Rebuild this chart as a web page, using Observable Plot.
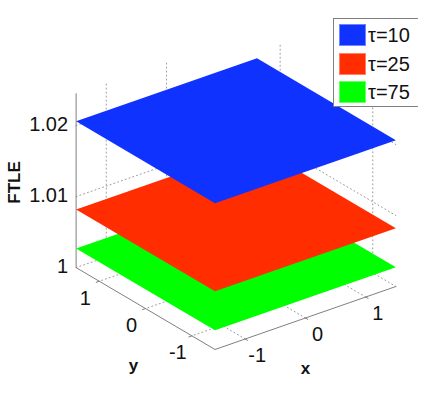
<!DOCTYPE html>
<html><head><meta charset="utf-8">
<script src="https://cdn.jsdelivr.net/npm/d3@7"></script>
<script src="https://cdn.jsdelivr.net/npm/@observablehq/plot@0.6"></script>
<style>
html,body{margin:0;padding:0;background:#fff}
#wrap{position:relative;width:436px;height:393px;overflow:hidden}
#legend{position:absolute;left:333px;top:18px;width:85px;height:89px;box-sizing:border-box;border:1px solid #808080;border-right:none;background:#fff;font:20px "Liberation Sans",sans-serif;color:#111}
#legend div{position:absolute;left:0;height:22px;line-height:22px;padding-left:34px}
#legend i{position:absolute;left:5px;top:0;width:27px;height:22px;box-sizing:border-box;border:1px solid rgba(255,255,255,.4)}
</style></head><body>
<div id="wrap"><div id="chart"></div><div id="legend"></div></div>
<script>
const taus = ["τ=10","τ=25","τ=75"];
const planeColors = ["#0f32ff","#ff2d00","#00ff00"];
const planeLevels = [1.0206,1.0082,1.0027];
const xTicks = [-1,0,1];
const yTicks = [-1,0,1];
const xWallTicks = [-1,0];
const yWallTicks = [-1,1];
const zTicks = [1,1.01,1.02];
const zTickLabels = ["1","1.01","1.02"];
const xLim = [-1.5,1.5];
const yLim = [-1.5,1.5];
const zLim = [1,1.0245];

// oblique 3-D view projected into a 436x393 plane
const px = (x,y)=>214.5+(x+1.5)*60.3-(y+1.5)*46.3;
const py = (x,y,z)=>349-(x+1.5)*21-(y+1.5)*27.3-(z-1)*7100;
const P = ([x,y,z])=>({px:px(x,y),py:py(x,y,z)});
const path = (pts,key)=>pts.map(p=>({...P(p),key}));
const opts = {x:"px",y:"py",z:"key"};

const planes = planeLevels.map((z,i)=>path([[xLim[0],yLim[0],z],[xLim[1],yLim[0],z],[xLim[1],yLim[1],z],[xLim[0],yLim[1],z]],taus[i]));
const grid=[], ax=[], ticks=[];
let k=0;
for(const t of xTicks){
  grid.push(...path([[t,yLim[0],zLim[0]],[t,yLim[1],zLim[0]]],k++));
  ticks.push(...path([[t,yLim[0],zLim[0]],[t,yLim[0]-0.05,zLim[0]]],k++));
}
for(const t of yTicks){
  grid.push(...path([[xLim[1],t,zLim[0]],[xLim[0],t,zLim[0]]],k++));
  ticks.push(...path([[xLim[0],t,zLim[0]],[xLim[0]-0.05,t,zLim[0]]],k++));
}
for(const t of xWallTicks) grid.push(...path([[t,yLim[1],zLim[0]],[t,yLim[1],zLim[1]]],k++));
for(const t of yWallTicks) grid.push(...path([[xLim[1],t,zLim[0]],[xLim[1],t,zLim[1]]],k++));
for(const t of zTicks){
  grid.push(...path([[xLim[0],yLim[1],t],[xLim[1],yLim[1],t],[xLim[1],yLim[0],t]],k++));
}
ax.push(...path([[xLim[0],yLim[1],zLim[1]],[xLim[0],yLim[1],zLim[0]],[xLim[0],yLim[0],zLim[0]],[xLim[1],yLim[0],zLim[0]]],"box"));

const font = {fontFamily:"Liberation Sans",fill:"#111",stroke:"none"};
const marks = [
  Plot.line(grid,{...opts,stroke:"#9a9a9a",strokeWidth:1,strokeDasharray:"1,3"}),
  Plot.line(ax,{...opts,stroke:"#808080",strokeWidth:1}),
  Plot.line(ticks,{...opts,stroke:"#808080",strokeWidth:1}),
  ...planes.slice().reverse().map((d,i)=>Plot.line(d.concat(d[0]),{x:"px",y:"py",fill:planeColors[2-i],stroke:"none"})),
  Plot.text(xTicks,{x:t=>px(t,yLim[0]),y:t=>py(t,yLim[0],zLim[0]),text:d=>String(d),dx:12,dy:17,fontSize:20,...font}),
  Plot.text(yTicks,{x:t=>px(xLim[0],t),y:t=>py(xLim[0],t,zLim[0]),text:d=>String(d),dx:-14,dy:17,fontSize:20,...font}),
  Plot.text(zTicks,{x:()=>px(xLim[0],yLim[1]),y:t=>py(xLim[0],yLim[1],t),text:(d,i)=>zTickLabels[i],dx:-8,dy:-1,textAnchor:"end",fontSize:20,...font}),
  Plot.text(["FTLE"],{x:()=>px(xLim[0],yLim[1]),y:()=>py(xLim[0],yLim[1],1.012),text:d=>d,dx:-62,rotate:-90,fontSize:17,fontWeight:"bold",...font}),
  Plot.text(["y"],{x:()=>px(xLim[0],0),y:()=>py(xLim[0],0,zLim[0]),text:d=>d,dx:-12,dy:57,fontSize:17,fontWeight:"bold",...font}),
  Plot.text(["x"],{x:()=>px(0,yLim[0]),y:()=>py(0,yLim[0],zLim[0]),text:d=>d,dx:0,dy:51,fontSize:17,fontWeight:"bold",...font})
];
const chart = Plot.plot({width:436,height:393,margin:0,
  x:{domain:[0,436],range:[0,436],axis:null},
  y:{domain:[0,393],range:[0,393],axis:null},
  marks});
chart.style.display="block";
document.getElementById("chart").append(chart);
const lg=document.getElementById("legend");
taus.forEach((t,i)=>{const d=document.createElement("div");d.style.top=(5+i*28.7)+"px";
 d.innerHTML=`<i style="background:${planeColors[i]}"></i>${t}`;lg.append(d);});
</script></body></html>
